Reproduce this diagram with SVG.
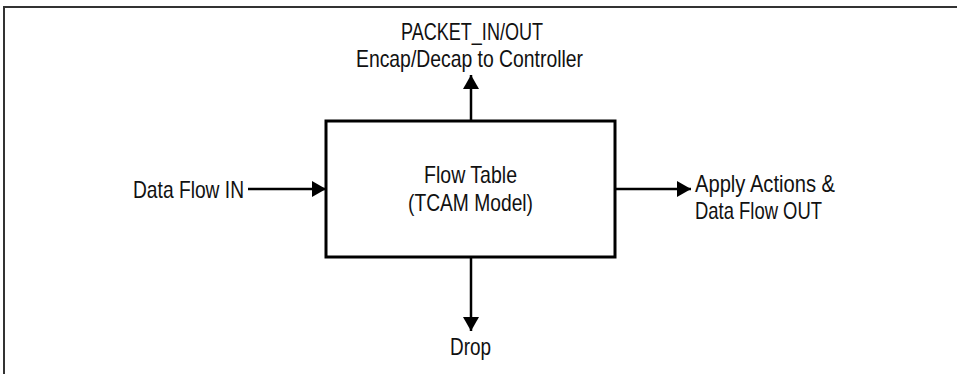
<svg xmlns="http://www.w3.org/2000/svg" width="957" height="374" viewBox="0 0 957 374">
<style>
.lbl{font-family:"Liberation Sans",Arial,sans-serif;font-size:24px;fill:#111}
.con{stroke:#000;stroke-width:2.5;fill:none}
.frame{stroke:#333;stroke-width:2;fill:none}
</style>
<defs>
<marker id="ah" markerUnits="userSpaceOnUse" markerWidth="14" markerHeight="16" refX="14" refY="8" orient="auto">
<path d="M0,0 L14,8 L0,16 Z" fill="#000"/>
</marker>
</defs>
<rect width="957" height="374" fill="#fff"/>
<path class="frame" d="M4,374 L4,7 L957,7"/>
<g id="flowtable">
<rect x="326" y="121" width="289" height="136" fill="#fff" stroke="#000" stroke-width="3"/>
<text class="lbl" x="424" y="183" textLength="93" lengthAdjust="spacingAndGlyphs">Flow Table</text>
<text class="lbl" x="408" y="211" textLength="125" lengthAdjust="spacingAndGlyphs">(TCAM Model)</text>
</g>
<g id="datain">
<text class="lbl" x="133" y="198" textLength="111" lengthAdjust="spacingAndGlyphs">Data Flow IN</text>
</g>
<g id="controller">
<text class="lbl" x="401" y="40" textLength="142" lengthAdjust="spacingAndGlyphs">PACKET_IN/OUT</text>
<text class="lbl" x="356" y="67" textLength="227" lengthAdjust="spacingAndGlyphs">Encap/Decap to Controller</text>
</g>
<g id="actions">
<text class="lbl" x="695" y="192" textLength="140" lengthAdjust="spacingAndGlyphs">Apply Actions &amp;</text>
<text class="lbl" x="695" y="219" textLength="127" lengthAdjust="spacingAndGlyphs">Data Flow OUT</text>
</g>
<g id="drop">
<text class="lbl" x="450" y="355" textLength="41" lengthAdjust="spacingAndGlyphs">Drop</text>
</g>
<g id="connectors">
<line class="con" x1="248" y1="189" x2="326" y2="189" marker-end="url(#ah)"/>
<line class="con" x1="471" y1="121" x2="471" y2="75" marker-end="url(#ah)"/>
<line class="con" x1="615" y1="189" x2="691" y2="189" marker-end="url(#ah)"/>
<line class="con" x1="471" y1="257" x2="471" y2="331" marker-end="url(#ah)"/>
</g>
</svg>
